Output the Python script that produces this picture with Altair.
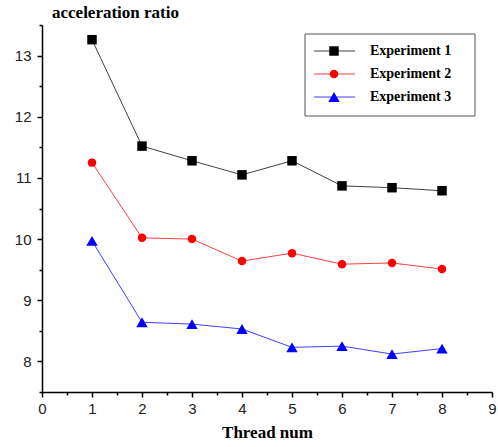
import altair as alt
import pandas as pd

threads = [1, 2, 3, 4, 5, 6, 7, 8]
exp1 = [13.26, 11.52, 11.28, 11.05, 11.28, 10.87, 10.84, 10.79]
exp2 = [11.25, 10.02, 10.00, 9.64, 9.77, 9.59, 9.61, 9.51]
exp3 = [9.97, 8.64, 8.61, 8.53, 8.23, 8.25, 8.12, 8.21]
series_names = ["Experiment 1", "Experiment 2", "Experiment 3"]
colors = ["black", "red", "blue"]
shapes = ["square", "circle", "triangle-up"]
x_ticks = [i * 0.5 for i in range(19)]
y_ticks = [7.5 + i * 0.5 for i in range(13)]

rows = []
for name, vals in zip(series_names, [exp1, exp2, exp3]):
    for t, v in zip(threads, vals):
        rows.append({"thread": t, "ratio": v, "series": name})
df = pd.DataFrame(rows)
leg_df = pd.DataFrame({"series": series_names})
one = pd.DataFrame({"a": [0]})

label_expr = "datum.value % 1 === 0 ? '' + datum.value : ''"
tick_size = {"condition": {"test": "datum.value % 1 === 0", "value": 5}, "value": 3}

x_enc = alt.X(
    "thread:Q",
    scale=alt.Scale(domain=[0, 9], nice=False, zero=False),
    axis=alt.Axis(values=x_ticks, labelExpr=label_expr, tickSize=tick_size,
                  title="Thread num", grid=False, labelPadding=4, labelFlush=False,
                  titleFont="Liberation Serif", titleFontWeight="bold",
                  titleFontSize=17, titleColor="black", titlePadding=8),
)
y_enc = alt.Y(
    "ratio:Q",
    scale=alt.Scale(domain=[7.5, 13.5], nice=False, zero=False),
    axis=alt.Axis(values=y_ticks, labelExpr=label_expr, tickSize=tick_size,
                  title=None, grid=False, labelPadding=6, labelFlush=False),
)
color_enc = alt.Color("series:N", scale=alt.Scale(domain=series_names, range=colors), legend=None)
shape_enc = alt.Shape("series:N", scale=alt.Scale(domain=series_names, range=shapes), legend=None)
size_enc = alt.Size("series:N", scale=alt.Scale(type="ordinal", domain=series_names, range=[90, 72, 130]), legend=None)

lines = alt.Chart(df).mark_line(strokeWidth=1, opacity=0.75).encode(
    x=x_enc, y=y_enc, color=color_enc, detail="series:N")
points = alt.Chart(df).mark_point(filled=True, opacity=1).encode(
    x=x_enc, y=y_enc, color=color_enc, shape=shape_enc, size=size_enc)

main = alt.layer(lines, points)

leg_y = alt.Y("series:N", scale=alt.Scale(type="point", domain=series_names, range=[26, 72], padding=0), axis=None)

frame = alt.Chart(one).mark_rect(fill="white", stroke="#555", strokeWidth=1).encode(
    x=alt.value(263), x2=alt.value(433), y=alt.value(9), y2=alt.value(91))
leg_lines = alt.Chart(leg_df).mark_rule(strokeWidth=1, opacity=0.75).encode(
    x=alt.value(272), x2=alt.value(313), y=leg_y, color=color_enc)
leg_pts = alt.Chart(leg_df).mark_point(filled=True, opacity=1).encode(
    x=alt.value(292), y=leg_y, color=color_enc, shape=shape_enc, size=size_enc)
leg_text = alt.Chart(leg_df).mark_text(
    align="left", baseline="middle", font="Liberation Serif", fontWeight="bold",
    fontSize=14, color="black").encode(x=alt.value(328), y=leg_y, text="series:N")
legend = alt.layer(frame, leg_lines, leg_pts, leg_text)

title = alt.Chart(one).mark_text(
    align="left", baseline="alphabetic", font="Liberation Serif", fontWeight="bold",
    fontSize=17, color="black", text="acceleration ratio").encode(
    x=alt.value(10), y=alt.value(-7))

chart = alt.layer(main, legend, title).resolve_scale(y="independent").properties(
    width=450, height=367,
    autosize=alt.AutoSizeParams(type="none"),
    padding={"left": 42, "top": 25, "right": 6, "bottom": 55},
).configure_view(stroke=None).configure_axis(
    domainColor="black", domainWidth=1.5, tickColor="black", tickWidth=1.5,
    labelFont="Liberation Sans", labelFontSize=15, labelColor="#222",
)

chart.save("out.html", embed_options={"renderer": "svg", "actions": False})
